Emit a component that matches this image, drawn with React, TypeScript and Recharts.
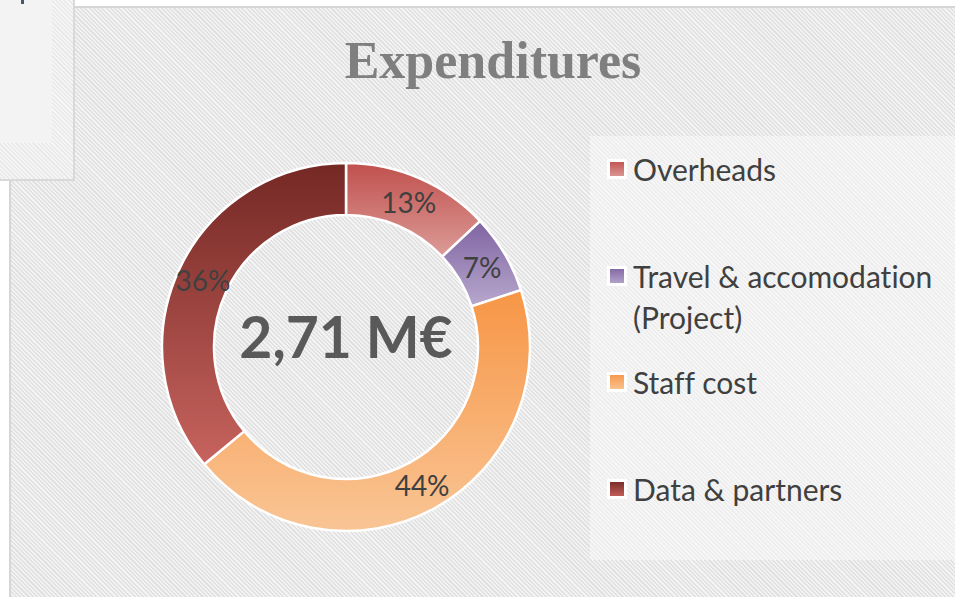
import React from 'react';
import { PieChart, Pie, Cell, Legend } from 'recharts';

const title = 'Expenditures';
const centerLabel = '2,71 M€';
const categories = ['Overheads', 'Travel & accomodation (Project)', 'Staff cost', 'Data & partners'];
const values = [13, 7, 44, 36];
const topColors = ['#c0504d', '#8064a2', '#f79646', '#742824'];
const bottomColors = ['#dc9c98', '#b7a8cd', '#f9c595', '#c7635e'];

const data = categories.map((name, i) => ({ name, value: values[i] }));

const RADIAN = Math.PI / 180;
const FONT = 'Lato, "Open Sans", sans-serif';
const CX = 346;
const CY = 347;

const renderSliceLabel = (props: any) => {
  const { cx, cy, midAngle, innerRadius, outerRadius, percent } = props;
  const r = (innerRadius + outerRadius) / 2;
  const x = cx + r * Math.cos(-midAngle * RADIAN);
  const y = cy + r * Math.sin(-midAngle * RADIAN);
  return (
    <text x={x} y={y} textAnchor="middle" dominantBaseline="central" fill="#404040" fontSize={28} fontFamily={FONT}>
      {`${Math.round(percent * 100)}%`}
    </text>
  );
};

const renderLegend = () => {
  return (
    <div
      style={{
        width: '100%',
        height: '100%',
        boxSizing: 'border-box',
        paddingTop: 13,
        background: 'repeating-linear-gradient(45deg, #eeeeee 0px, #eeeeee 1.5px, #f6f6f6 1.5px, #f6f6f6 3px)',
      }}
    >
      {categories.map((name, i) => (
        <div key={name} style={{ height: 106.5, display: 'flex', alignItems: 'flex-start' }}>
          <svg width={20} height={20} style={{ marginLeft: 17, marginTop: 10, flex: '0 0 auto' }}>
            <rect x={1.5} y={1.5} width={17} height={17} fill={`url(#grad${i})`} stroke="#ffffff" strokeWidth={3} />
          </svg>
          <div
            style={{
              marginLeft: 6,
              width: 318,
              fontFamily: FONT,
              fontSize: 30,
              lineHeight: '41px',
              color: '#404040',
              textAlign: 'left',
              fontVariantLigatures: 'none',
            }}
          >
            {name}
          </div>
        </div>
      ))}
    </div>
  );
};

export default function App() {
  return (
    <div style={{ position: 'absolute', left: 0, top: 0, width: 955, height: 597, background: '#ffffff', overflow: 'hidden' }}>
      <div
        style={{
          position: 'absolute',
          left: 9,
          top: 6,
          width: 946,
          height: 591,
          boxSizing: 'border-box',
          borderLeft: '2px solid #d6d6d6',
          borderTop: '2px solid #d6d6d6',
          background: 'repeating-linear-gradient(45deg, #e1e1e1 0px, #e1e1e1 1.5px, #f3f3f3 1.5px, #f3f3f3 3px)',
        }}
      />
      <div
        style={{
          position: 'absolute',
          left: 0,
          top: 0,
          width: 75,
          height: 181,
          boxSizing: 'border-box',
          borderRight: '2px solid #d9d9d9',
          borderBottom: '2px solid #d9d9d9',
          background: 'repeating-linear-gradient(45deg, #e9e9e9 0px, #e9e9e9 1.5px, #f6f6f6 1.5px, #f6f6f6 3px)',
        }}
      >
        <div style={{ position: 'absolute', left: 0, top: 0, width: 52, height: 143, background: '#f3f3f3' }} />
        <div style={{ position: 'absolute', left: 21, top: 0, width: 3, height: 4, background: '#4a5670' }} />
      </div>
      <div style={{ position: 'absolute', left: 0, top: 0 }}>
        <PieChart width={955} height={597} margin={{ top: 0, right: 0, bottom: 0, left: 0 }}>
          <defs>
            {categories.map((c, i) => (
              <linearGradient key={c} id={`grad${i}`} x1="0" y1="0" x2="0" y2="1">
                <stop offset="0%" stopColor={topColors[i]} />
                <stop offset="100%" stopColor={bottomColors[i]} />
              </linearGradient>
            ))}
          </defs>
          <text x={493} y={78} textAnchor="middle" fill="#7f7f7f" fontSize={52} fontWeight="bold" fontFamily='"Liberation Serif", serif'>
            {title}
          </text>
          <Pie
            data={data}
            dataKey="value"
            nameKey="name"
            cx={CX}
            cy={CY}
            innerRadius={132}
            outerRadius={184}
            startAngle={90}
            endAngle={-270}
            stroke="#ffffff"
            strokeWidth={2.5}
            label={renderSliceLabel}
            labelLine={false}
            isAnimationActive={false}
          >
            {data.map((d, i) => (
              <Cell key={d.name} fill={`url(#grad${i})`} />
            ))}
          </Pie>
          <text x={CX} y={CY + 11} textAnchor="middle" fill="#595959" fontSize={57} fontWeight="bold" fontFamily={FONT}>
            {centerLabel}
          </text>
          <Legend
            layout="vertical"
            align="right"
            verticalAlign="top"
            content={renderLegend}
            wrapperStyle={{ left: 590, top: 136, right: 'auto', bottom: 'auto', width: 365, height: 424 }}
          />
        </PieChart>
      </div>
    </div>
  );
}
